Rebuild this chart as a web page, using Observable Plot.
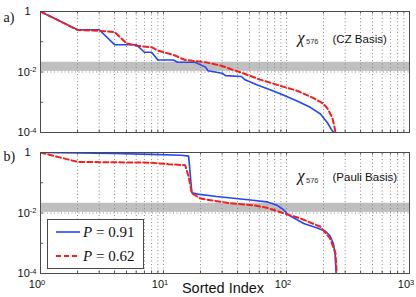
<!DOCTYPE html>
<html><head><meta charset="utf-8">
<script src="https://cdn.jsdelivr.net/npm/d3@7"></script>
<script src="https://cdn.jsdelivr.net/npm/@observablehq/plot@0.6"></script>
<style>
html,body{margin:0;padding:0;background:#fff;}
#chart{position:relative;width:416px;height:297px;overflow:hidden;font-family:"Liberation Sans",Arial,sans-serif;}
#panelA,#panelB{position:absolute;left:0;}
#panelA{top:0px}
#panelB{top:141px}
#legend{position:absolute;left:47px;top:219px;}
</style></head><body>
<div id="chart"><div id="panelA"></div><div id="panelB"></div><div id="legend"></div></div>
<script>
// ---- data ----
const seriesNames = ["P = 0.91", "P = 0.62"];
const panelTitles = ["(CZ Basis)", "(Pauli Basis)"];
const panelLetters = ["a)", "b)"];

// panel a) CZ basis, P = 0.91 (blue)
const czIdx91 = [1,2,3,4,6,7,8,9,12,13,18,22,23,30,32,43,46,58,70,89,122,156,189,215,235,243];
const czVal91 = [1,0.25,0.25,0.08,0.08,0.045,0.045,0.025,0.025,0.021,0.021,0.0145,0.011,0.0091,0.0076,0.0071,0.0055,0.0037,0.0028,0.0019,0.0011,0.00068,0.00041,0.00021,0.000115,0.0001];
// panel a) CZ basis, P = 0.62 (red dashed)
const czIdx62 = [1,2,3,4,5,6,8,9,12,15,22,30,35,45,61,89,122,167,200,215,235,245,250];
const czVal62 = [1,0.245,0.23,0.21,0.089,0.074,0.066,0.051,0.037,0.025,0.021,0.0158,0.0126,0.0089,0.0056,0.0035,0.0024,0.00135,0.00089,0.00063,0.00032,0.00016,0.0001];
// panel b) Pauli basis, P = 0.91 (blue)
const pauliIdx91 = [1,4,8,14,16,17,19,27,51,69,84,95,104,115,138,178,207,225,240,248,253];
const pauliVal91 = [1,0.93,0.87,0.81,0.76,0.047,0.042,0.035,0.027,0.0234,0.018,0.0126,0.0085,0.0068,0.0045,0.0032,0.0025,0.0018,0.001,0.0005,0.0001];
// panel b) Pauli basis, P = 0.62 (red dashed)
const pauliIdx62 = [1,2,5,8,11,15,16,17,20,35,54,69,95,130,189,226,250,256];
const pauliVal62 = [1,0.49,0.47,0.46,0.41,0.38,0.16,0.045,0.03,0.021,0.018,0.015,0.0098,0.0066,0.0035,0.00145,0.00047,0.0001];

// shaded band
const bandLow = [0.0105];
const bandHigh = [0.021];

// axes
const xDomain = [1, 1000];
const yDomain = [1e-4, 1];
const xMajorTicks = [1, 10, 100, 1000];
const xTickLabels = ["10^0", "10^1", "10^2", "10^3"];
const yMajorTicks = [1, 1e-2, 1e-4];
const yTickLabels = ["1", "10^-2", "10^-4"];
const xGrid = [2,3,4,5,6,7,8,9,10,20,30,40,50,60,70,80,90,100,200,300,400,500,600,700,800,900];
const yGrid = [1e-2];
const yDecades = [1e-1, 1e-2, 1e-3];

// ---- helpers ----
const toRows = (xs, ys) => xs.map((x, i) => ({x, y: ys[i]}));
const BLUE = "#2447f5", RED = "#f51e1e";
const W = 416, ML = 40, MR = 7, MT = 11, PH = 121;

function panel(opts) {
  const {rows91, rows62, height, marginBottom, showX, letter, title, titleDy} = opts;
  const marks = [
    Plot.rect(bandLow.map((lo, i) => ({lo, hi: bandHigh[i]})), {x1: xDomain[0], x2: xDomain[1], y1: "lo", y2: "hi", fill: "#bfbfbf"}),
    Plot.ruleX(xGrid, {stroke: "#8a8a8a", strokeDasharray: "1,2.5", strokeWidth: 1}),
    Plot.ruleY(yGrid, {stroke: "#8a8a8a", strokeDasharray: "1,2.5", strokeWidth: 1}),
    Plot.line(rows91, {x: "x", y: "y", stroke: BLUE, strokeWidth: 1.6, clip: true}),
    Plot.line(rows62, {x: "x", y: "y", stroke: RED, strokeWidth: 2, strokeDasharray: "5,3", clip: true}),
    // inward tick marks
    Plot.tickX(xGrid.concat(xMajorTicks), {x: d => d, stroke: "#555", insetTop: PH - 2.5}),
    Plot.tickX(xGrid.concat(xMajorTicks), {x: d => d, stroke: "#555", insetBottom: PH - 2.5}),
    Plot.tickY(yDecades, {y: d => d, stroke: "#555", insetRight: 369 - 3}),
    Plot.frame({stroke: "#4a4a4a", strokeWidth: 1}),
    Plot.axisY(yMajorTicks, {tickSize: 0, tickPadding: 4, fontSize: 11, label: null,
      tickFormat: d => yTickLabels[yMajorTicks.indexOf(d)]}),
    // panel letter
    Plot.text([letter], {frameAnchor: "top-left", dx: -37, dy: opts.letterDy, textAnchor: "start",
      fontSize: 14, fontFamily: "Liberation Serif, serif"}),
    // chi_576 label
    Plot.text(["\u03c7"], {frameAnchor: "top-left", dx: 257, dy: titleDy - 3, textAnchor: "start",
      fontSize: 16, fontFamily: "Liberation Serif, serif", fontStyle: "italic"}),
    Plot.text(["576"], {frameAnchor: "top-left", dx: 265.5, dy: titleDy + 4.5, textAnchor: "start",
      fontSize: 7.5, fill: "#333"}),
    Plot.text([title], {frameAnchor: "top-left", dx: 292, dy: titleDy, textAnchor: "start",
      fontSize: 11.5})
  ];
  if (showX) {
    marks.push(Plot.axisX(xMajorTicks, {tickSize: 0, tickPadding: 7, fontSize: 11, label: null,
      tickFormat: d => xTickLabels[xMajorTicks.indexOf(d)]}));
    marks.push(Plot.text(["Sorted Index"], {frameAnchor: "bottom", dx: -2, dy: 19, fontSize: 14.5}));
  }
  return Plot.plot({
    width: W, height, marginLeft: ML, marginRight: MR, marginTop: MT, marginBottom,
    x: {type: "log", domain: xDomain, axis: null, label: null},
    y: {type: "log", domain: yDomain, axis: null, label: null},
    style: {fontFamily: "Liberation Sans, Arial, sans-serif", background: "transparent", overflow: "visible", color: "#111"},
    marks
  });
}

function supify(svg) {
  svg.querySelectorAll("text").forEach(t => {
    const s = t.textContent;
    const m = /^10\^(.+)$/.exec(s);
    if (m) {
      while (t.firstChild) t.removeChild(t.firstChild);
      t.appendChild(document.createTextNode("10"));
      const ts = document.createElementNS("http://www.w3.org/2000/svg", "tspan");
      ts.setAttribute("dy", "-0.45em");
      ts.setAttribute("font-size", "7.5");
      ts.textContent = m[1];
      t.appendChild(ts);
      if (t.closest("[aria-label='x-axis tick label']")) t.setAttribute("dx", "-3.5");
    } else if (s === "1" && t.closest("[aria-label='y-axis tick label']")) {
      t.setAttribute("dx", "-6");
    }
  });
}

const svgA = panel({rows91: toRows(czIdx91, czVal91), rows62: toRows(czIdx62, czVal62),
  height: 142, marginBottom: 10, showX: false, letter: panelLetters[0], letterDy: 1, title: panelTitles[0], titleDy: 23});
const svgB = panel({rows91: toRows(pauliIdx91, pauliVal91), rows62: toRows(pauliIdx62, pauliVal62),
  height: 156, marginBottom: 24, showX: true, letter: panelLetters[1], letterDy: -1, title: panelTitles[1], titleDy: 20.5});
supify(svgA); supify(svgB);
document.getElementById("panelA").appendChild(svgA);
document.getElementById("panelB").appendChild(svgB);

// legend (in panel b)
const NS = "http://www.w3.org/2000/svg";
const lg = document.createElementNS(NS, "svg");
lg.setAttribute("width", 97); lg.setAttribute("height", 50);
lg.innerHTML = `
  <rect x="0.5" y="0.5" width="96" height="49" fill="white" stroke="#4a4a4a"/>
  <line x1="9" x2="33" y1="13" y2="13" stroke="${BLUE}" stroke-width="1.6"/>
  <line x1="9" x2="33" y1="37" y2="37" stroke="${RED}" stroke-width="2" stroke-dasharray="5,3"/>`;
seriesNames.forEach((name, i) => {
  const t = document.createElementNS(NS, "text");
  t.setAttribute("x", 36); t.setAttribute("y", 13 + 24 * i); t.setAttribute("dy", "0.35em");
  t.setAttribute("font-family", "Liberation Serif, serif"); t.setAttribute("font-size", "15");
  t.setAttribute("fill", "#111");
  const p = document.createElementNS(NS, "tspan");
  p.setAttribute("font-style", "italic"); p.textContent = name.slice(0, 1);
  t.appendChild(p);
  t.appendChild(document.createTextNode(" = " + name.split("= ")[1]));
  lg.appendChild(t);
});
document.getElementById("legend").appendChild(lg);
</script>
</body></html>
